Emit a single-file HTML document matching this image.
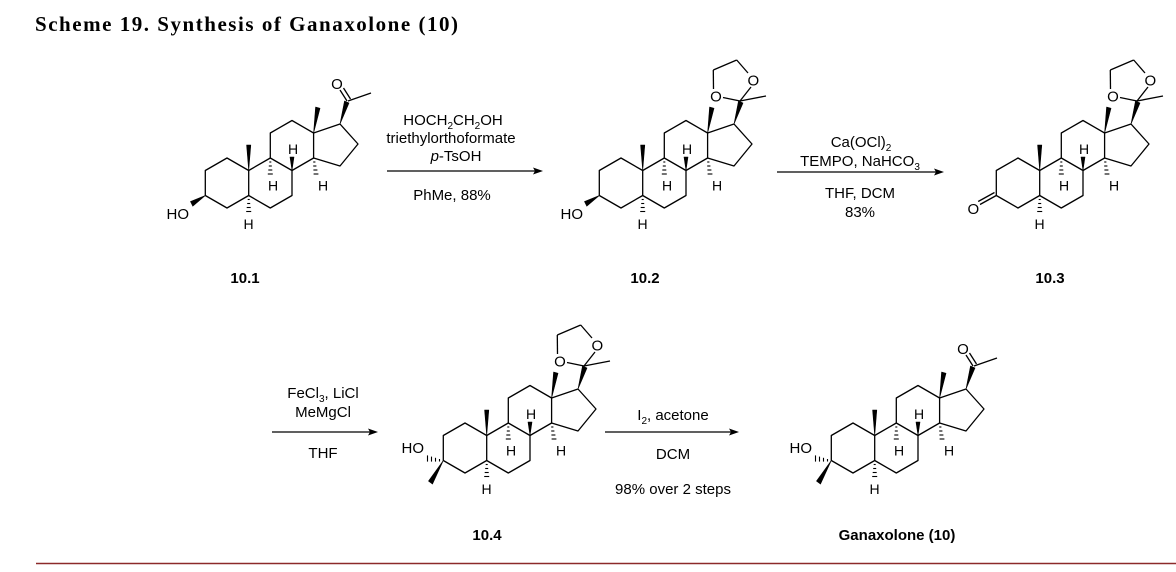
<!DOCTYPE html>
<html><head><meta charset="utf-8">
<style>
html,body{margin:0;padding:0;background:#fff;}
svg{display:block;}
text{font-family:"Liberation Sans",Arial,sans-serif;fill:#000;}
.t{font-size:15px;}
.h{font-size:14px;}
.lb{font-size:15px;font-weight:bold;}
</style></head><body>
<svg width="1176" height="572" viewBox="0 0 1176 572" xmlns="http://www.w3.org/2000/svg">
<defs>
<g id="core" stroke="#000" stroke-width="1.3" fill="none" stroke-linejoin="round">
  <polygon points="227,158 205.3,170.5 205.3,195.5 227,208 248.7,195.5 248.7,170.5"/>
  <polyline points="248.7,170.5 270.3,158 292,170.5 292,195.5 270.3,208 248.7,195.5"/>
  <polyline points="270.3,158 270.3,133 292,120.5 313.6,133 313.6,158 292,170.5"/>
  <polyline points="313.6,133 340,124 358,144 340,166 313.6,158"/>
  <polygon points="248.7,170.5 246.6,145 250.8,145" fill="#000" stroke-width="0.6"/>
  <polygon points="313.6,133 315.6,107 320,108.3" fill="#000" stroke-width="0.6"/>
  <polygon points="292,170.5 290,157 294,157" fill="#000" stroke-width="0.6"/>
  <polygon points="340,124 344.5,101 349,103" fill="#000" stroke-width="0.6"/>
  <g stroke-width="1.1">
    <line x1="269.3" y1="162" x2="271.3" y2="162"/><line x1="268.8" y1="166" x2="271.8" y2="166"/>
    <line x1="268.3" y1="170" x2="272.3" y2="170"/><line x1="267.8" y1="174" x2="272.8" y2="174"/>
    <line x1="313.2" y1="162" x2="315.4" y2="162"/><line x1="313.2" y1="166" x2="316.4" y2="166"/>
    <line x1="313.4" y1="170" x2="317.4" y2="170"/><line x1="313.6" y1="174" x2="318.4" y2="174"/>
    <line x1="247.7" y1="199.5" x2="249.7" y2="199.5"/><line x1="247.2" y1="203.5" x2="250.2" y2="203.5"/>
    <line x1="246.7" y1="207.5" x2="250.7" y2="207.5"/><line x1="246.2" y1="211.5" x2="251.2" y2="211.5"/>
  </g>
</g>
<g id="acetyl" stroke="#000" stroke-width="1.3" fill="none">
  <line x1="348" y1="101" x2="371" y2="93"/>
  <line x1="347" y1="101" x2="340" y2="90"/>
  <line x1="350.5" y1="99" x2="343.5" y2="88"/>
</g>
<g id="diox" stroke="#000" stroke-width="1.3" fill="none">
  <line x1="346" y1="101" x2="372" y2="96"/>
  <line x1="346" y1="101" x2="329" y2="97.5"/>
  <line x1="319.5" y1="89" x2="319.3" y2="70"/>
  <line x1="319.3" y1="70" x2="342.7" y2="60"/>
  <line x1="342.7" y1="60" x2="354" y2="73"/>
  <line x1="357" y1="87" x2="346" y2="101"/>
</g>
<g id="ho_up" stroke="#000" stroke-width="0.6" fill="#000">
  <polygon points="205.3,195.5 190.5,201.5 192.8,206.2"/>
</g>
<g id="ho_dn" stroke="#000" stroke-width="1.1" fill="none">
  <polygon points="205.3,195.5 190.5,216 194.5,219" fill="#000" stroke-width="0.6"/>
  <line x1="201.5" y1="194" x2="201.5" y2="196.5"/>
  <line x1="197.5" y1="192.8" x2="197.5" y2="196.6"/>
  <line x1="193.5" y1="191.6" x2="193.5" y2="196.6"/>
  <line x1="189.5" y1="190.4" x2="189.5" y2="196.6"/>
</g>
</defs>

<text x="35" y="31" style="font-family:'Liberation Serif',serif;font-weight:bold;font-size:21px" textLength="423" lengthAdjust="spacing">Scheme 19. Synthesis of Ganaxolone (10)</text>

<!-- 10.1 -->
<g>
  <use href="#core"/><use href="#acetyl"/><use href="#ho_up"/>
  <text class="t" x="337" y="89" text-anchor="middle">O</text>
  <text class="h" x="273" y="190.5" text-anchor="middle">H</text>
  <text class="h" x="293" y="154" text-anchor="middle">H</text>
  <text class="h" x="323" y="190.5" text-anchor="middle">H</text>
  <text class="h" x="248.5" y="229" text-anchor="middle">H</text>
  <text class="t" x="189" y="219" text-anchor="end">HO</text>
  <text class="lb" x="245" y="283" text-anchor="middle">10.1</text>
</g>
<!-- 10.2 -->
<g transform="translate(394,0)">
  <use href="#core"/><use href="#diox"/><use href="#ho_up"/>
  <text class="t" x="322" y="101.5" text-anchor="middle">O</text>
  <text class="t" x="359.3" y="85.5" text-anchor="middle">O</text>
  <text class="h" x="273" y="190.5" text-anchor="middle">H</text>
  <text class="h" x="293" y="154" text-anchor="middle">H</text>
  <text class="h" x="323" y="190.5" text-anchor="middle">H</text>
  <text class="h" x="248.5" y="229" text-anchor="middle">H</text>
  <text class="t" x="189" y="219" text-anchor="end">HO</text>
  <text class="lb" x="251" y="283" text-anchor="middle">10.2</text>
</g>
<!-- 10.3 -->
<g transform="translate(791,0)">
  <use href="#core"/><use href="#diox"/>
  <g stroke="#000" stroke-width="1.3">
    <line x1="205.3" y1="195.5" x2="189" y2="204.5"/>
    <line x1="203.5" y1="192.5" x2="187.2" y2="201.5"/>
  </g>
  <text class="t" x="322" y="101.5" text-anchor="middle">O</text>
  <text class="t" x="359.3" y="85.5" text-anchor="middle">O</text>
  <text class="h" x="273" y="190.5" text-anchor="middle">H</text>
  <text class="h" x="293" y="154" text-anchor="middle">H</text>
  <text class="h" x="323" y="190.5" text-anchor="middle">H</text>
  <text class="h" x="248.5" y="229" text-anchor="middle">H</text>
  <text class="t" x="182.3" y="214" text-anchor="middle">O</text>
  <text class="lb" x="259" y="283" text-anchor="middle">10.3</text>
</g>
<!-- 10.4 -->
<g transform="translate(238,265)">
  <use href="#core"/><use href="#diox"/><use href="#ho_dn"/>
  <text class="t" x="322" y="101.5" text-anchor="middle">O</text>
  <text class="t" x="359.3" y="85.5" text-anchor="middle">O</text>
  <text class="h" x="273" y="190.5" text-anchor="middle">H</text>
  <text class="h" x="293" y="154" text-anchor="middle">H</text>
  <text class="h" x="323" y="190.5" text-anchor="middle">H</text>
  <text class="h" x="248.5" y="229" text-anchor="middle">H</text>
  <text class="t" x="186" y="188" text-anchor="end">HO</text>
  <text class="lb" x="249" y="275" text-anchor="middle">10.4</text>
</g>
<!-- Ganaxolone -->
<g transform="translate(626,265)">
  <use href="#core"/><use href="#acetyl"/><use href="#ho_dn"/>
  <text class="t" x="337" y="89" text-anchor="middle">O</text>
  <text class="h" x="273" y="190.5" text-anchor="middle">H</text>
  <text class="h" x="293" y="154" text-anchor="middle">H</text>
  <text class="h" x="323" y="190.5" text-anchor="middle">H</text>
  <text class="h" x="248.5" y="229" text-anchor="middle">H</text>
  <text class="t" x="186" y="188" text-anchor="end">HO</text>
  <text class="lb" x="271" y="275" text-anchor="middle">Ganaxolone (10)</text>
</g>

<!-- arrows -->
<g stroke="#000" stroke-width="1.3">
  <line x1="387" y1="171" x2="536" y2="171"/>
  <line x1="777" y1="172" x2="937" y2="172"/>
  <line x1="272" y1="432" x2="371" y2="432"/>
  <line x1="605" y1="432" x2="732" y2="432"/>
</g>
<g fill="#000">
  <polygon points="543,171 533,167.5 535,171 533,174.5"/>
  <polygon points="944,172 934,168.5 936,172 934,175.5"/>
  <polygon points="378,432 368,428.5 370,432 368,435.5"/>
  <polygon points="739,432 729,428.5 731,432 729,435.5"/>
</g>

<g class="t" text-anchor="middle">
  <text class="t" x="453" y="125" text-anchor="middle">HOCH<tspan font-size="10" dy="4">2</tspan><tspan dy="-4">CH</tspan><tspan font-size="10" dy="4">2</tspan><tspan dy="-4">OH</tspan></text>
  <text class="t" x="451" y="143" text-anchor="middle">triethylorthoformate</text>
  <text class="t" x="456" y="161" text-anchor="middle"><tspan font-style="italic">p</tspan>-TsOH</text>
  <text class="t" x="452" y="200" text-anchor="middle">PhMe, 88%</text>

  <text class="t" x="861" y="147" text-anchor="middle">Ca(OCl)<tspan font-size="10" dy="4">2</tspan></text>
  <text class="t" x="860" y="166" text-anchor="middle">TEMPO, NaHCO<tspan font-size="10" dy="4">3</tspan></text>
  <text class="t" x="860" y="198" text-anchor="middle">THF, DCM</text>
  <text class="t" x="860" y="217" text-anchor="middle">83%</text>

  <text class="t" x="323" y="398" text-anchor="middle">FeCl<tspan font-size="10" dy="4">3</tspan><tspan dy="-4">, LiCl</tspan></text>
  <text class="t" x="323" y="417" text-anchor="middle">MeMgCl</text>
  <text class="t" x="323" y="458" text-anchor="middle">THF</text>

  <text class="t" x="673" y="420" text-anchor="middle">I<tspan font-size="10" dy="4">2</tspan><tspan dy="-4">, acetone</tspan></text>
  <text class="t" x="673" y="459" text-anchor="middle">DCM</text>
  <text class="t" x="673" y="494" text-anchor="middle">98% over 2 steps</text>
</g>

<line x1="36" y1="563.5" x2="1176" y2="563.5" stroke="#8c2a2a" stroke-width="1.5"/>
</svg>
</body></html>
